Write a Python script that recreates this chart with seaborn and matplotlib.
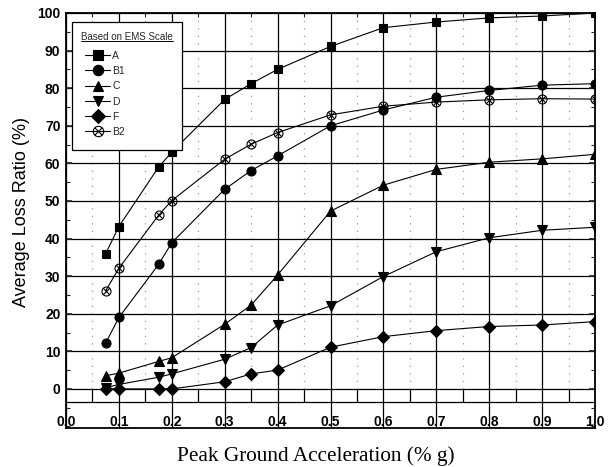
import numpy as np
import pandas as pd
import matplotlib
matplotlib.use("Agg")
import matplotlib.pyplot as plt
from matplotlib.lines import Line2D
from matplotlib.path import Path
from matplotlib.ticker import MultipleLocator
import seaborn as sns

# Values
pga = [0.075, 0.1, 0.175, 0.2, 0.3, 0.35, 0.4, 0.5, 0.6, 0.7, 0.8, 0.9, 1.0]
loss_a = [36, 43.2, 59, 63, 77, 81.2, 85, 91.1, 96.1, 97.6, 98.7, 99.2, 100]
loss_b1 = [12.2, 19, 33.1, 38.9, 53.1, 58.1, 62, 70, 74.2, 77.6, 79.4, 80.8, 81.2]
loss_c = [3.5, 4.2, 7.3, 8.3, 17.2, 22.3, 30.3, 47.3, 54.2, 58.4, 60.3, 61.2, 62.4]
loss_d = [0.3, 1.2, 3.1, 4, 7.9, 11, 17, 22.1, 29.9, 36.5, 40.2, 42.2, 43]
loss_f = [0, 0, 0, 0, 1.9, 4, 5, 11.1, 13.9, 15.5, 16.6, 17, 17.9]
loss_b2 = [26.1, 32.1, 46.2, 50.1, 61.1, 65.1, 68.2, 72.9, 75.2, 76.3, 76.9, 77.2, 77.1]

series_names = ["A", "B1", "C", "D", "F", "B2"]
x_tick_labels = ["0.0", "0.1", "0.2", "0.3", "0.4", "0.5", "0.6", "0.7", "0.8", "0.9", "1.0"]
y_tick_labels = ["0", "10", "20", "30", "40", "50", "60", "70", "80", "90", "100"]
legend_title = "Based on EMS Scale"

# circle with a cross inside, for B2
circ = Path.unit_circle()
cross = Path([(-0.7, -0.7), (0.7, 0.7), (-0.7, 0.7), (0.7, -0.7)],
             [Path.MOVETO, Path.LINETO, Path.MOVETO, Path.LINETO])
circle_x = Path.make_compound_path(circ, cross)

sns.set_theme(style="white")
plt.rcParams["font.family"] = ["Liberation Sans", "DejaVu Sans"]

fig = plt.figure(figsize=(6.1, 4.67), dpi=100)
ax = fig.add_axes([66 / 610, 1 - 428 / 467, 529 / 610, 415 / 467])

data = pd.DataFrame({"pga": pga, "A": loss_a, "B1": loss_b1, "C": loss_c,
                     "D": loss_d, "F": loss_f, "B2": loss_b2})
markers = {"A": "s", "B1": "o", "C": "^", "D": "v", "F": "D", "B2": circle_x}
sizes = {"A": 6.2, "B1": 6.5, "C": 6.8, "D": 6.8, "F": 5.8, "B2": 6.5}

# grid and reference lines under the data
ax.vlines(np.arange(0.05, 1.0, 0.1), 0, 100, colors="0.6",
          linestyles=(0, (1, 5)), linewidth=0.9, zorder=0)
ax.vlines(np.arange(0.05, 1.0, 0.1), -3.5, 0, colors="black", linewidth=0.9, zorder=0)
ax.axhline(-3.5, color="black", linewidth=0.9, zorder=0)

for name in series_names:
    face = "none" if name == "B2" else "black"
    sns.lineplot(data=data, x="pga", y=name, ax=ax, color="black", linewidth=0.8,
                 marker=markers[name], markersize=sizes[name],
                 markerfacecolor=face, markeredgecolor="black",
                 markeredgewidth=0.8, label=name, zorder=3)

ax.set_xlim(0, 1.0)
ax.set_ylim(-10.4, 100)

ax.set_xticks(np.linspace(0, 1.0, 11))
ax.set_xticklabels(x_tick_labels, fontweight="bold", fontsize=10)
ax.set_yticks(np.arange(0, 101, 10))
ax.set_yticklabels(y_tick_labels, fontweight="bold", fontsize=10)
ax.xaxis.set_minor_locator(MultipleLocator(0.05))
ax.yaxis.set_minor_locator(MultipleLocator(5))

ax.grid(True, which="major", color="black", linewidth=0.9, linestyle="-")
ax.set_axisbelow(True)

ax.tick_params(axis="x", which="major", length=0, pad=-9)
ax.tick_params(axis="x", which="minor", bottom=False, top=True, direction="in", length=3, width=0.8)
ax.tick_params(axis="y", which="major", left=True, right=True, direction="in",
               length=4, width=1.2, pad=4)
ax.tick_params(axis="y", which="minor", left=True, right=True, direction="in",
               length=3, width=0.8)
for lbl in ax.get_yticklabels() + ax.get_xticklabels():
    lbl.set_color("black")

for sp in ax.spines.values():
    sp.set_visible(True)
    sp.set_color("black")
    sp.set_linewidth(1.3)

ax.set_ylabel("Average Loss Ratio (%)", fontsize=13, color="black")
ax.yaxis.set_label_coords(-0.068, 0.52)
ax.set_xlabel("Peak Ground Acceleration (% g)", fontsize=15.3, color="black",
              family=["Liberation Serif", "DejaVu Serif"])
ax.xaxis.set_label_coords(0.4726, -0.043)

leg = ax.legend(title=legend_title,
                loc="upper left", bbox_to_anchor=(0.011, 0.978), borderaxespad=0,
                fontsize=7.5, title_fontsize=7, frameon=True, fancybox=False,
                edgecolor="black", framealpha=1, handlelength=2.4, markerscale=1.15,
                handletextpad=0.2, labelspacing=0.5, borderpad=0.9)
leg.get_frame().set_linewidth(0.9)
leg._legend_box.align = "left"
leg._legend_handle_box.pad = 3
leg.set_zorder(5)

# underline the legend title
fig.canvas.draw()
bb = leg.get_title().get_window_extent().transformed(fig.transFigure.inverted())
fig.add_artist(Line2D([bb.x0, bb.x1], [bb.y0 + 0.002, bb.y0 + 0.002],
                      transform=fig.transFigure, color="black", linewidth=0.7, zorder=6))

fig.savefig("out.png", dpi=100)
